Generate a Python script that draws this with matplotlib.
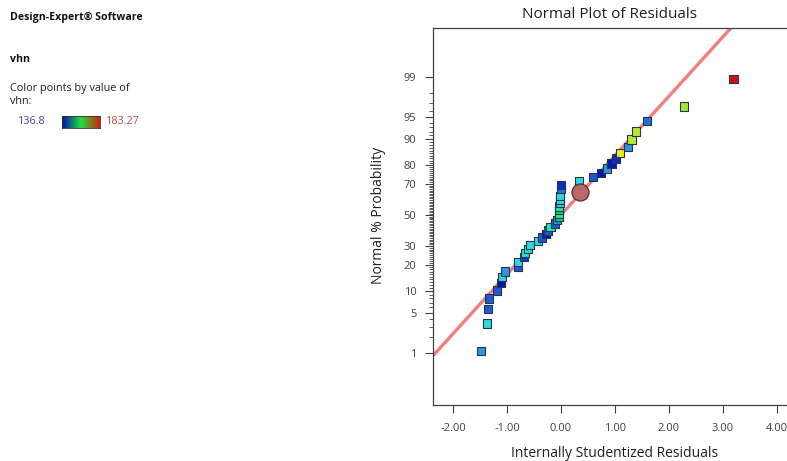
import matplotlib
matplotlib.use('Agg')

import matplotlib.pyplot as plt
import numpy as np
from matplotlib.colors import LinearSegmentedColormap, Normalize
from statistics import NormalDist

plt.rcParams['font.family'] = ['Open Sans', 'DejaVu Sans']
plt.rcParams['axes.unicode_minus'] = False

# residuals (internally studentized), normal % probability, vhn value of each run
residuals = [-1.48, -1.37, -1.35, -1.33, -1.19, -1.11, -1.09, -1.04, -0.80, -0.80,
             -0.69, -0.67, -0.61, -0.57, -0.43, -0.35, -0.28, -0.24, -0.19, -0.11,
             -0.07, -0.04, -0.04, -0.04, -0.04, -0.02, -0.02, -0.02, 0.00, 0.00,
             0.33, 0.59, 0.74, 0.85, 0.94, 1.02, 1.09, 1.24, 1.31, 1.39,
             1.59, 2.28, 3.20]
probability = [1.1, 3.4, 5.7, 8.0, 10.2, 12.5, 14.8, 17.0, 19.3, 21.6,
               23.9, 26.1, 28.4, 30.7, 33.0, 35.2, 37.5, 39.8, 42.0, 44.3,
               46.6, 48.9, 51.1, 53.4, 55.7, 58.0, 60.2, 62.5, 67.0, 69.3,
               71.6, 73.9, 76.1, 78.4, 80.7, 83.0, 85.2, 87.5, 89.8, 92.0,
               94.3, 96.6, 98.9]
vhn = [146, 151, 141.5, 141.5, 141.5, 138, 151, 146, 141.5, 151,
       140, 151, 155, 151, 151, 141.5, 138, 141.5, 155, 141.5,
       146, 160, 155, 160, 155, 151, 151, 151, 143, 139,
       151, 141.5, 138, 146, 138, 139, 172, 146, 167, 167,
       143, 166, 183.27]

# highlighted run
sel_residual = 0.35
sel_probability = 64.8

vhn_min, vhn_max = 136.8, 183.27
major_ticks = [1, 5, 10, 20, 30, 50, 70, 80, 90, 95, 99]
x_ticks = [-2, -1, 0, 1, 2, 3, 4]

nd = NormalDist()
def probit(p):
    return np.array([nd.inv_cdf(v / 100.0) for v in np.atleast_1d(p)])

cmap = LinearSegmentedColormap.from_list('vhn', [
    (0.0, '#0000a8'), (0.1, '#1e5ad8'), (0.2, '#2898e0'), (0.3, '#30d8e0'),
    (0.4, '#20e8a8'), (0.5, '#20d850'), (0.65, '#b8e830'), (0.75, '#f0f020'),
    (1.0, '#d01010')])
norm = Normalize(vhn_min, vhn_max)

fig = plt.figure(figsize=(7.87, 4.61), dpi=100)
# axes runs past the right edge of the picture, as in the original screenshot
ax = fig.add_axes([433 / 787, 56 / 461, 394 / 787, 377 / 461])

# reference line
lx = np.array([-2.37, 4.9])
ax.plot(lx, lx, color='#f08080', lw=2.4, zorder=1, solid_capstyle='butt')

ax.scatter(residuals, probit(probability), c=vhn, cmap=cmap, norm=norm, marker='s',
           s=36, edgecolors='#23384a', linewidths=0.8, zorder=3)
ax.scatter([sel_residual], probit([sel_probability]), s=150, color='#b86a6a',
           edgecolors='#5a2a2a', linewidths=0.9, zorder=4)

ax.set_xlim(-2.37, 4.93)
ax.set_ylim(-3.20, 3.15)
ax.set_xticks(x_ticks)
ax.set_xticklabels(['%.2f' % v for v in x_ticks])
ax.set_yticks(probit(major_ticks))
ax.set_yticklabels([str(v) for v in major_ticks])
ax.set_yticks(probit(np.arange(1, 100)), minor=True)
ax.tick_params(axis='both', which='major', length=6, width=0.8, colors='#404040',
               labelsize=8, labelcolor='#404040')
ax.tick_params(axis='y', which='minor', length=3, width=0.6, colors='#404040')
ax.tick_params(axis='x', pad=7)
ax.tick_params(axis='y', pad=6)
for s in ax.spines.values():
    s.set_color('#404040')
    s.set_linewidth(0.9)

fig.text(610 / 787, 1 - 15 / 461, 'Normal Plot of Residuals', ha='center', va='center',
         fontsize=11, color='#202020')
fig.text(615 / 787, 1 - 453 / 461, 'Internally Studentized Residuals', ha='center',
         va='center', fontsize=10, color='#202020')
fig.text(378 / 787, 1 - 215 / 461, 'Normal % Probability', ha='center', va='center',
         rotation=90, fontsize=10, color='#202020')

# left info panel
fig.text(10 / 787, 1 - 17 / 461, 'Design-Expert® Software', fontsize=7.6, weight='bold',
         va='center', color='#101010')
fig.text(10 / 787, 1 - 60 / 461, 'vhn', fontsize=7.6, weight='bold', va='center',
         color='#101010')
fig.text(10 / 787, 1 - 89 / 461, 'Color points by value of', fontsize=7.8, va='center',
         color='#202020')
fig.text(10 / 787, 1 - 101 / 461, 'vhn:', fontsize=7.8, va='center', color='#202020')
fig.text(18 / 787, 1 - 122 / 461, '136.8', fontsize=7.8, va='center', color='#3a46a0')
fig.text(106 / 787, 1 - 122 / 461, '183.27', fontsize=7.8, va='center', color='#c04848')
cax = fig.add_axes([62 / 787, 1 - 128 / 461, 38 / 787, 12 / 461])
cax.imshow(np.linspace(0, 1, 100)[None, :],
           cmap=LinearSegmentedColormap.from_list('bar', ['#0010b0', '#20e040', '#d02010']),
           aspect='auto')
cax.set_xticks([])
cax.set_yticks([])
for s in cax.spines.values():
    s.set_linewidth(0.6)
    s.set_color('#303030')

fig.savefig('out.png', dpi=100)
